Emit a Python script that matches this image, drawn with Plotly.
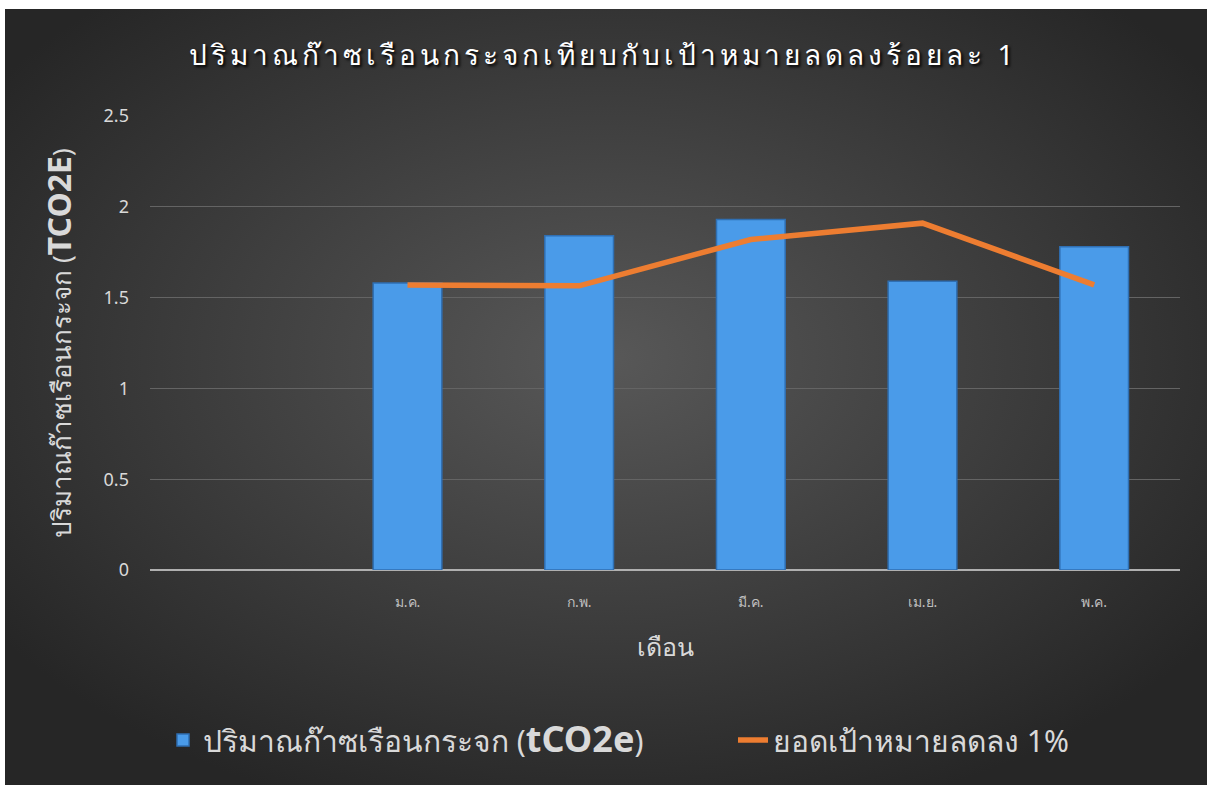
import base64
import plotly.graph_objects as go

months = ["ม.ค.", "ก.พ.", "มี.ค.", "เม.ย.", "พ.ค."]
emissions = [1.58, 1.84, 1.93, 1.59, 1.78]
target = [1.57, 1.565, 1.82, 1.91, 1.57]

title_text = "<span style='letter-spacing:4px'>ปริมาณก๊าซเรือนกระจกเทียบกับเป้าหมายลดลงร้อยละ 1</span>"
bar_name = "ปริมาณก๊าซเรือนกระจก (<b><span style='font-size:36px'>tCO2e</span></b>)"
line_name = "ยอดเป้าหมายลดลง 1%"
y_title = "ปริมาณก๊าซเรือนกระจก (<b><span style='font-size:32px'>TCO2E</span></b>)"
x_title = "เดือน"

W, H = 1207, 785
L, R, T, B = 150, 27, 116, 215
pw, ph = W - L - R, H - T - B

svg = f"""<svg xmlns='http://www.w3.org/2000/svg' width='{W}' height='{H}'>
<defs><radialGradient id='g' cx='0.5' cy='0.45' r='0.62' gradientUnits='objectBoundingBox'>
<stop offset='0' stop-color='#585858'/><stop offset='1' stop-color='#262626'/></radialGradient></defs>
<rect x='5' y='9' width='{W-5}' height='{H-9}' fill='url(#g)'/></svg>"""
src = "data:image/svg+xml;base64," + base64.b64encode(svg.encode()).decode()

FONT = "Noto Sans, sans-serif"

fig = go.Figure()
fig.add_trace(go.Bar(
    x=months, y=emissions, name=bar_name, legend="legend",
    marker=dict(color="#4a9be9", line=dict(color="#2f6fb3", width=1.5)),
))
fig.add_trace(go.Scatter(
    x=months, y=target, name=line_name, mode="lines", legend="legend2",
    line=dict(color="#ed7d31", width=5.5),
))

fig.add_layout_image(dict(
    source=src, xref="paper", yref="paper",
    x=-L / pw, y=1 + T / ph, sizex=W / pw, sizey=H / ph,
    xanchor="left", yanchor="top", sizing="stretch", layer="below",
))

leg_y = -(740 - (H - B)) / ph
fig.update_layout(
    width=W, height=H,
    margin=dict(l=L, r=R, t=T, b=B),
    paper_bgcolor="white", plot_bgcolor="rgba(0,0,0,0)",
    font=dict(family=FONT, color="#d9d9d9"),
    title=dict(text=title_text, x=0.5, xanchor="center", y=1 - 55 / H, yanchor="middle",
               font=dict(size=28, color="white", shadow="2px 2px 3px black")),
    bargap=0.6,
    showlegend=True,
    legend=dict(x=(163 - L) / pw, xanchor="left", y=leg_y, yanchor="middle",
                font=dict(size=30, color="#d9d9d9"), bgcolor="rgba(0,0,0,0)"),
    legend2=dict(x=(733 - L) / pw, xanchor="left", y=leg_y, yanchor="middle",
                 font=dict(size=30, color="#d9d9d9"), bgcolor="rgba(0,0,0,0)"),
    xaxis=dict(type="category", range=[-1.5, 4.5], showgrid=False, showline=False,
               ticks="", tickfont=dict(size=14, color="#bfbfbf"), ticklabelstandoff=22,
               title=dict(text=x_title, font=dict(size=25, color="#d9d9d9"), standoff=28)),
    yaxis=dict(range=[0, 2.5], dtick=0.5, showgrid=True, gridcolor="#646464", gridwidth=1,
               zeroline=True, zerolinecolor="#b0b0b0", zerolinewidth=2,
               tickfont=dict(size=18, color="#d9d9d9"), ticklabelstandoff=20,
               title=dict(text=y_title, font=dict(size=26, color="#d9d9d9"), standoff=24)),
)

fig.write_html("out.html",
               config={"displayModeBar": False},
               post_script="document.body.style.margin='0';"
                           "document.documentElement.style.overflow='hidden';")
